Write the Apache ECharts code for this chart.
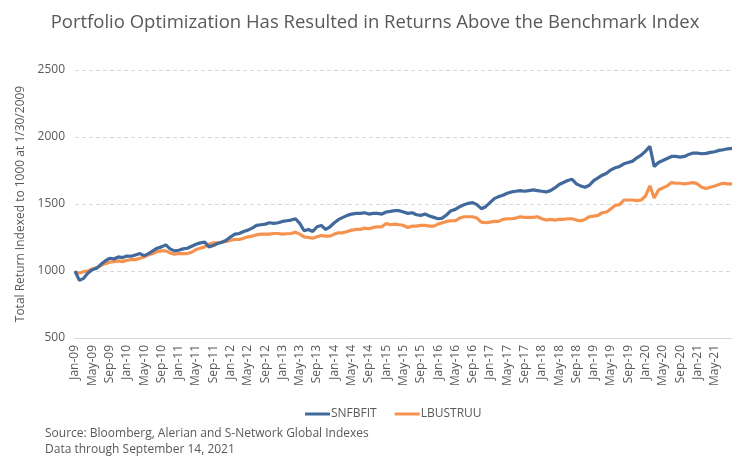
<!DOCTYPE html>
<html>
<head>
<meta charset="utf-8">
<script src="https://cdn.jsdelivr.net/npm/echarts@6/dist/echarts.min.js"></script>
<style>
html,body{margin:0;padding:0;background:#fff;}
#c{width:750px;height:473px;}
</style>
</head>
<body>
<div id="c"></div>
<script>
// Monthly categories Jan-09 .. Sep-21
const monthNames = ['Jan','Feb','Mar','Apr','May','Jun','Jul','Aug','Sep','Oct','Nov','Dec'];
const startYear = 2009, endYear = 2021, endMonth = 8; // Sep
const categories = [];
for (let y = startYear; y <= endYear; y++) {
  for (let m = 0; m < 12; m++) {
    if (y === endYear && m > endMonth) break;
    categories.push(monthNames[m] + '-' + String(y).slice(2));
  }
}
const lastTickLabel = 'May-21';

const snfbfit = [
1000,930,945,985,1010,1020,1050,1075,1095,1090,1105,1100,
1112,1110,1120,1130,1115,1130,1150,1170,1180,1195,1165,1150,
1155,1165,1170,1185,1200,1210,1215,1180,1190,1205,1215,1230,
1255,1275,1280,1295,1305,1320,1340,1345,1350,1360,1355,1360,
1370,1375,1380,1390,1355,1300,1310,1295,1330,1340,1310,1330,
1360,1385,1400,1415,1425,1430,1430,1435,1425,1430,1430,1425,
1440,1445,1450,1450,1440,1430,1435,1420,1415,1425,1410,1400,
1390,1395,1420,1450,1460,1480,1495,1505,1510,1495,1465,1480,
1510,1540,1555,1565,1580,1590,1595,1600,1595,1600,1605,1600,
1595,1590,1600,1620,1645,1660,1675,1685,1650,1635,1625,1640,
1675,1695,1715,1730,1755,1770,1780,1800,1810,1820,1845,1865,
1895,1930,1780,1810,1825,1840,1855,1855,1850,1855,1870,1880,
1880,1875,1878,1885,1890,1900,1905,1912,1915
];

const lbustruu = [
990,985,995,1000,1015,1025,1040,1055,1065,1070,1075,1070,
1080,1085,1085,1095,1105,1120,1130,1145,1150,1150,1135,1125,
1130,1130,1130,1140,1160,1170,1180,1200,1210,1210,1215,1220,
1230,1235,1235,1245,1255,1260,1270,1275,1275,1275,1280,1280,
1275,1278,1280,1290,1275,1255,1250,1245,1255,1265,1260,1260,
1275,1285,1285,1295,1305,1310,1310,1320,1315,1325,1330,1330,
1355,1345,1350,1345,1340,1325,1335,1335,1340,1340,1335,1335,
1350,1360,1370,1375,1375,1395,1405,1405,1405,1395,1365,1360,
1365,1370,1370,1385,1390,1390,1395,1405,1400,1400,1400,1405,
1390,1380,1385,1380,1385,1385,1390,1390,1380,1375,1385,1405,
1410,1415,1435,1440,1465,1490,1495,1530,1530,1530,1525,1530,
1560,1635,1545,1605,1620,1635,1660,1655,1655,1650,1655,1660,
1650,1625,1615,1625,1635,1645,1655,1650,1650
];

const yTicks = {min: 500, max: 2500, interval: 500};

const lastTickIdx = categories.indexOf(lastTickLabel);
const chart = echarts.init(document.getElementById('c'), null, {renderer: 'canvas'});
const fontFam = '"Open Sans", "Noto Sans", sans-serif';
chart.setOption({
  animation: false,
  backgroundColor: '#fff',
  title: {
    text: 'Portfolio Optimization Has Resulted in Returns Above the Benchmark Index',
    left: 'center', top: 8,
    textStyle: {fontFamily: fontFam, fontSize: 18.5, fontWeight: 'normal', color: '#595959'}
  },
  legend: {
    data: ['SNFBFIT', 'LBUSTRUU'],
    left: 300, top: 403,
    itemWidth: 25, itemHeight: 3, itemGap: 18,
    icon: 'rect',
    textStyle: {fontFamily: fontFam, fontSize: 12, color: '#595959', padding: [0,0,0,-4]}
  },
  graphic: [
    {type: 'text', left: 45, top: 428, style: {text: 'Source: Bloomberg, Alerian and S-Network Global Indexes', font: '12px "Open Sans", "Noto Sans", sans-serif', fill: '#595959'}},
    {type: 'text', left: 45, top: 444, style: {text: 'Data through September 14, 2021', font: '12px "Open Sans", "Noto Sans", sans-serif', fill: '#595959'}}
  ],
  grid: {left: 75, right: 18, top: 70, bottom: 135, containLabel: false},
  xAxis: {
    type: 'category',
    data: categories,
    boundaryGap: false,
    axisLine: {show: true, lineStyle: {color: '#d9d9d9', width: 1}},
    axisTick: {show: false},
    axisLabel: {
      interval: function (i) { return i % 4 === 0 && i <= lastTickIdx; },
      rotate: 90, fontFamily: fontFam, fontSize: 12, color: '#595959', margin: 7
    },
    splitLine: {show: false}
  },
  yAxis: {
    type: 'value',
    min: yTicks.min, max: yTicks.max, interval: yTicks.interval,
    name: 'Total Return Indexed to 1000 at 1/30/2009',
    nameLocation: 'middle', nameGap: 48,
    nameTextStyle: {fontFamily: fontFam, fontSize: 12, color: '#595959'},
    axisLine: {show: false},
    axisTick: {show: false},
    axisLabel: {fontFamily: fontFam, fontSize: 12, color: '#595959', margin: 10,
      formatter: function (v) { return String(v); }},
    splitLine: {show: true, lineStyle: {color: '#d9d9d9', type: [4, 3], width: 1}}
  },
  series: [
    {name: 'SNFBFIT', type: 'line', data: snfbfit, showSymbol: false, symbol: 'none', z: 3,
     lineStyle: {color: '#41699b', width: 3.2}, itemStyle: {color: '#41699b'}},
    {name: 'LBUSTRUU', type: 'line', data: lbustruu, showSymbol: false, symbol: 'none', z: 2,
     lineStyle: {color: '#f5934e', width: 3.2}, itemStyle: {color: '#f5934e'}}
  ]
});
</script>
</body>
</html>
